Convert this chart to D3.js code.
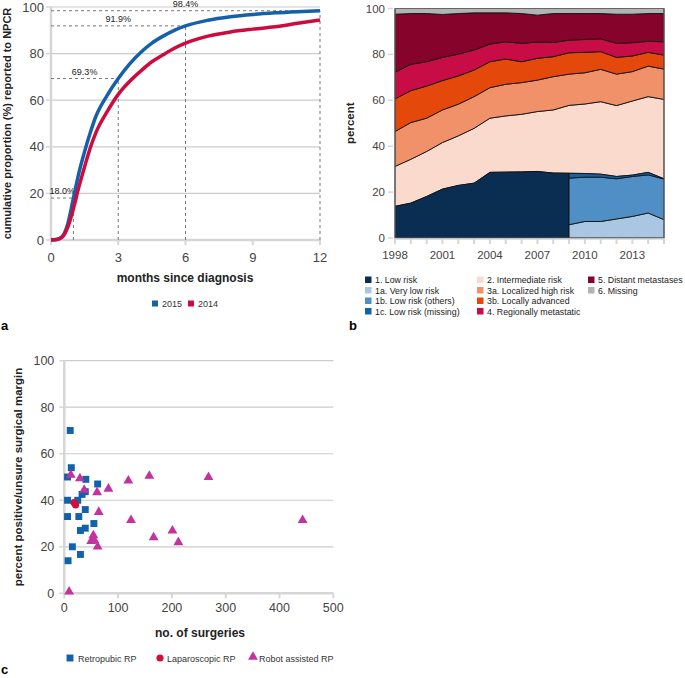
<!DOCTYPE html>
<html><head><meta charset="utf-8">
<script src="https://cdn.jsdelivr.net/npm/d3@7/dist/d3.min.js"></script>
<style>body{margin:0;background:#fff}svg{display:block;font-family:"Liberation Sans",Arial,sans-serif}</style>
</head><body><svg id="c" width="685" height="678"></svg>
<script>
// ---------- Panel a data ----------
const monthsA = [0,0.25,0.5,0.75,1,1.25,1.5,1.75,2,2.5,3,3.5,4,4.5,5,5.5,6,7,8,9,10,11,12];
const cum2015 = [0,0.2,1.5,7,18,29,38,46,53,62,69.3,75.5,80.5,84.5,87.5,90,91.9,94.3,95.8,96.8,97.5,98,98.4];
const cum2014 = [0,0.2,1.2,5.5,13.5,23,31.5,39.5,46,55,62.5,68,72.5,76.5,79.5,82.3,84.5,87.5,89.3,90.5,91.5,93,94.4];
const markMonths = [1,3,6,12];
const markValues = [18.0,69.3,91.9,98.4];
const markLabels = ["18.0%","69.3%","91.9%","98.4%"];
const ticksA_x = [0,3,6,9,12];
const ticksA_y = [0,20,40,60,80,100];

// ---------- Panel b data ----------
const years = d3.range(1998,2016);
const lowRisk   = [13.8,15.2,18.1,21.3,22.9,23.9,28.6,28.7,28.8,29.0,28.3,28.2,null,null,null,null,null,null];
const veryLow   = [null,null,null,null,null,null,null,null,null,null,null,5.8,7.2,7.2,8.3,9.4,10.9,8.0];
const lowOthers = [null,null,null,null,null,null,null,null,null,null,null,20.3,19.3,19.3,17.5,17.4,16.6,17.7];
const lowMissing= [null,null,null,null,null,null,null,null,null,null,null,2.1,1.6,1.3,1.0,0.6,1.1,0.1];
const intermediate=[17.4,19.1,19.6,20.3,21.6,23.9,23.6,24.5,25.1,26.1,27.5,29.6,30.3,31.6,30.9,32.3,33.0,34.6];
const locHigh   = [15.2,16.0,14.5,14.2,13.8,13.8,13.3,13.8,13.8,13.7,14.5,13.6,13.6,14.1,13.7,12.8,13.3,13.2];
const locAdv    = [14.2,13.9,14.0,12.8,12.3,11.6,11.3,11.0,9.1,9.5,8.7,9.3,8.9,7.7,7.3,6.8,6.0,6.1];
const regMet    = [11.6,11.5,10.6,10.1,9.5,8.7,7.7,7.5,8.0,7.1,6.2,5.5,5.6,5.6,6.1,5.8,4.8,5.8];
const distMet   = [25.3,22.1,21.0,18.7,17.7,16.2,13.6,12.6,13.0,11.7,12.6,11.6,11.3,11.0,12.7,12.4,12.1,12.3];
const missing   = [2.5,2.2,2.2,2.6,2.2,1.9,1.9,1.9,2.2,2.9,2.2,2.2,2.2,2.2,2.5,2.5,2.2,2.2];
const yearLabels = [1998,2001,2004,2007,2010,2013];
const ticksB_y = [0,20,40,60,80,100];
const legendB = [
  ["1. Low risk","#0a2d52"],["1a. Very low risk","#a9c6e2"],["1b. Low risk (others)","#4f8fc6"],["1c. Low risk (missing)","#1262a8"],
  ["2. Intermediate risk","#f9dacd"],["3a. Localized high risk","#f0916a"],["3b. Locally advanced","#e4490b"],["4. Regionally metastatic","#c80c45"],
  ["5. Distant metastases","#86032c"],["6. Missing","#b3b3b3"]];

// ---------- Panel c data ----------
const retroX = [11,13,6,40,62,39,33,6,25,6,27,39,55,39,30,15,30,7];
const retroY = [70,54,50,49,47,43.7,42.5,40,40,33,33,36,30,28,27,20,16.7,14];
const lapX = [18,21];
const lapY = [39,38];
const robotX = [12,29,37,61,82,119,158,268,64,124,443,201,54,166,50,56,212,62,9];
const robotY = [50.5,49,44,43,44.5,48,50,49.5,34.5,31,31,26.5,24.5,23.6,22,22.3,21.5,19.6,0.3];
const ticksC_x = [0,100,200,300,400,500];
const ticksC_y = [0,20,40,60,80,100];

const svg = d3.select("#c");
const AX = "#d6d6d6", GRID = "#cccccc", TXT = "#444";

// ================= Panel a =================
const xA = d3.scaleLinear().domain([0,12]).range([51,320]);
const yA = d3.scaleLinear().domain([0,100]).range([240,7]);
const gA = svg.append("g");
gA.selectAll(".g").data(ticksA_y.slice(1)).join("line")
  .attr("x1",xA(0)).attr("x2",xA(12)).attr("y1",d=>yA(d)).attr("y2",d=>yA(d))
  .attr("stroke",GRID).attr("stroke-width",1.2);
gA.append("line").attr("x1",xA(0)).attr("x2",xA(0)).attr("y1",yA(100)).attr("y2",yA(0)).attr("stroke",AX).attr("stroke-width",2.5);
gA.append("line").attr("x1",xA(0)-1).attr("x2",xA(12)).attr("y1",yA(0)).attr("y2",yA(0)).attr("stroke",AX).attr("stroke-width",2.5);
gA.selectAll(".ty").data(ticksA_y).join("line").attr("x1",xA(0)-5).attr("x2",xA(0)).attr("y1",d=>yA(d)).attr("y2",d=>yA(d)).attr("stroke",AX).attr("stroke-width",1.5);
gA.selectAll(".tx").data(ticksA_x).join("line").attr("x1",d=>xA(d)).attr("x2",d=>xA(d)).attr("y1",yA(0)).attr("y2",yA(0)+5).attr("stroke",AX).attr("stroke-width",2);
gA.selectAll(".ly").data(ticksA_y).join("text").attr("x",xA(0)-7).attr("y",d=>yA(d)+4.5)
  .attr("text-anchor","end").attr("font-size",13).attr("fill",TXT).text(d=>d);
gA.selectAll(".lx").data(ticksA_x).join("text").attr("x",d=>xA(d)).attr("y",yA(0)+22)
  .attr("text-anchor","middle").attr("font-size",13).attr("fill",TXT).text(d=>d);
// dashed guides
markMonths.forEach((m,i)=>{
  const v = markValues[i];
  gA.append("line").attr("x1",xA(0)).attr("x2",xA(m)).attr("y1",yA(v)).attr("y2",yA(v))
    .attr("stroke","#777").attr("stroke-width",1).attr("stroke-dasharray","3,3");
  gA.append("line").attr("x1",xA(m)).attr("x2",xA(m)).attr("y1",yA(0)).attr("y2",yA(v))
    .attr("stroke","#777").attr("stroke-width",1).attr("stroke-dasharray","3,3");
  gA.append("text").attr("x",xA(m/2)).attr("y",yA(v)-4).attr("text-anchor","middle")
    .attr("font-size",9).attr("fill","#222").text(markLabels[i]);
});
const lineA = d3.line().x(d=>xA(d[0])).y(d=>yA(d[1])).curve(d3.curveMonotoneX);
gA.append("path").attr("d",lineA(monthsA.map((m,i)=>[m,cum2015[i]]))).attr("fill","none").attr("stroke","#1560a8").attr("stroke-width",3.5);
gA.append("path").attr("d",lineA(monthsA.map((m,i)=>[m,cum2014[i]]))).attr("fill","none").attr("stroke","#cc0c3e").attr("stroke-width",3.5);
gA.append("text").attr("transform",`translate(10.5,${(yA(0)+yA(100))/2}) rotate(-90)`).attr("text-anchor","middle")
  .attr("font-size",11).attr("font-weight","bold").attr("fill","#222").text("cumulative proportion (%) reported to NPCR");
gA.append("text").attr("x",185).attr("y",282).attr("text-anchor","middle").attr("font-size",12).attr("font-weight","bold").attr("fill","#222").text("months since diagnosis");
[["2015","#1560a8",152],["2014","#cc0c3e",188]].forEach(([t,c,x])=>{
  gA.append("rect").attr("x",x).attr("y",300.5).attr("width",6).attr("height",6).attr("fill",c);
  gA.append("text").attr("x",x+10).attr("y",307).attr("font-size",9).attr("fill","#333").text(t);
});
gA.append("text").attr("x",1).attr("y",330).attr("font-size",13).attr("font-weight","bold").text("a");

// ================= Panel b =================
const xB = d3.scaleLinear().domain([1998,2015]).range([395,664]);
const yB = d3.scaleLinear().domain([0,100]).range([238,8.5]);
const gB = svg.append("g");
const lowTotal = years.map((y,i)=> lowRisk[i]!=null ? lowRisk[i] : veryLow[i]+lowOthers[i]+lowMissing[i]);
const rowsB = years.map((y,i)=>({year:y,low:lowTotal[i],int:intermediate[i],a3:locHigh[i],b3:locAdv[i],r4:regMet[i],d5:distMet[i],m6:missing[i]}));
const upperKeys = ["low","int","a3","b3","r4","d5","m6"];
const upperCols = [null,"#f9dacd","#f0916a","#e4490b","#c80c45","#86032c","#b3b3b3"];
const stackUp = d3.stack().keys(upperKeys)(rowsB);
const areaB = d3.area().x(d=>xB(d.data.year)).y0(d=>yB(d[0])).y1(d=>yB(d[1]));
stackUp.forEach((s,k)=>{ if(k===0) return;
  gB.append("path").attr("d",areaB(s)).attr("fill",upperCols[k]).attr("stroke","#111").attr("stroke-width",0.9).attr("stroke-linejoin","round");
});
// 1. Low risk until 2009
const idx09 = years.indexOf(2009);
const navyRows = rowsB.slice(0,idx09+1).map((r,i)=>({year:r.year,v:lowRisk[i]}));
gB.append("path").attr("d",d3.area().x(d=>xB(d.year)).y0(yB(0)).y1(d=>yB(d.v))(navyRows))
  .attr("fill","#0a2d52").attr("stroke","#111").attr("stroke-width",0.9);
// 1a/1b/1c from 2009
const subRows = years.map((y,i)=>({year:y,a:veryLow[i],b:lowOthers[i],c:lowMissing[i]})).filter(r=>r.a!=null);
const stackLow = d3.stack().keys(["a","b","c"])(subRows);
const subCols = ["#a9c6e2","#4f8fc6","#1262a8"];
stackLow.forEach((s,k)=>{
  gB.append("path").attr("d",areaB(s)).attr("fill",subCols[k]).attr("stroke","#111").attr("stroke-width",0.9).attr("stroke-linejoin","round");
});
gB.append("rect").attr("x",xB(1998)).attr("y",yB(100)).attr("width",xB(2015)-xB(1998)).attr("height",yB(0)-yB(100))
  .attr("fill","none").attr("stroke","#666").attr("stroke-width",1);
gB.append("line").attr("x1",xB(1998)).attr("x2",xB(2015)).attr("y1",yB(0)+1).attr("y2",yB(0)+1).attr("stroke",AX).attr("stroke-width",1.5);
gB.selectAll(".tx").data(years).join("line").attr("x1",d=>xB(d)).attr("x2",d=>xB(d)).attr("y1",yB(0)+1).attr("y2",yB(0)+6).attr("stroke",AX).attr("stroke-width",2);
gB.selectAll(".ty").data(ticksB_y).join("line").attr("x1",xB(1998)-7).attr("x2",xB(1998)-2).attr("y1",d=>yB(d)).attr("y2",d=>yB(d)).attr("stroke",AX).attr("stroke-width",1.5);
gB.selectAll(".ly").data(ticksB_y).join("text").attr("x",xB(1998)-10).attr("y",d=>yB(d)+4)
  .attr("text-anchor","end").attr("font-size",11.5).attr("fill",TXT).text(d=>d);
gB.selectAll(".lx").data(yearLabels).join("text").attr("x",d=>xB(d)).attr("y",yB(0)+21)
  .attr("text-anchor","middle").attr("font-size",11.5).attr("fill",TXT).text(d=>d);
gB.append("text").attr("transform",`translate(354,${(yB(0)+yB(100))/2}) rotate(-90)`).attr("text-anchor","middle")
  .attr("font-size",11.5).attr("font-weight","bold").attr("fill","#222").text("percent");
const colX = [365,477,588];
legendB.forEach(([t,c],i)=>{
  const col = i<4?0:(i<8?1:2), row = i<4?i:(i<8?i-4:i-8);
  const y = 276.5 + row*10.5;
  gB.append("rect").attr("x",colX[col]).attr("y",y).attr("width",6.5).attr("height",6.5).attr("fill",c);
  gB.append("text").attr("x",colX[col]+10).attr("y",y+6.5).attr("font-size",8.8).attr("fill","#222").text(t);
});
gB.append("text").attr("x",349).attr("y",330).attr("font-size",13).attr("font-weight","bold").text("b");

// ================= Panel c =================
const xC = d3.scaleLinear().domain([0,500]).range([64.3,333.3]);
const yC = d3.scaleLinear().domain([0,100]).range([593.3,360.7]);
const gC = svg.append("g");
gC.selectAll(".g").data(ticksC_y.slice(1)).join("line").attr("x1",xC(0)).attr("x2",xC(500)).attr("y1",d=>yC(d)).attr("y2",d=>yC(d)).attr("stroke",GRID).attr("stroke-width",1.2);
gC.append("line").attr("x1",xC(0)).attr("x2",xC(0)).attr("y1",yC(100)).attr("y2",yC(0)).attr("stroke",AX).attr("stroke-width",2.5);
gC.append("line").attr("x1",xC(0)-1).attr("x2",xC(500)).attr("y1",yC(0)).attr("y2",yC(0)).attr("stroke",AX).attr("stroke-width",2.5);
gC.selectAll(".ty").data(ticksC_y).join("line").attr("x1",xC(0)-5).attr("x2",xC(0)).attr("y1",d=>yC(d)).attr("y2",d=>yC(d)).attr("stroke",AX).attr("stroke-width",1.5);
gC.selectAll(".tx").data(ticksC_x).join("line").attr("x1",d=>xC(d)).attr("x2",d=>xC(d)).attr("y1",yC(0)).attr("y2",yC(0)+5).attr("stroke",AX).attr("stroke-width",2);
gC.selectAll(".ly").data(ticksC_y).join("text").attr("x",xC(0)-10).attr("y",d=>yC(d)+4.5).attr("text-anchor","end").attr("font-size",12.5).attr("fill",TXT).text(d=>d);
gC.selectAll(".lx").data(ticksC_x).join("text").attr("x",d=>xC(d)).attr("y",yC(0)+19).attr("text-anchor","middle").attr("font-size",12.5).attr("fill",TXT).text(d=>d);
const sq = d3.symbol().type(d3.symbolSquare).size(48);
const ci = d3.symbol().type(d3.symbolCircle).size(40);
const tr = d3.symbol().type(d3.symbolTriangle).size(42);
gC.selectAll(".r").data(retroX.map((x,i)=>[x,retroY[i]])).join("path").attr("d",sq).attr("transform",d=>`translate(${xC(d[0])},${yC(d[1])})`).attr("fill","#0f62ab");
gC.selectAll(".l").data(lapX.map((x,i)=>[x,lapY[i]])).join("path").attr("d",ci).attr("transform",d=>`translate(${xC(d[0])},${yC(d[1])})`).attr("fill","#d0103a");
gC.selectAll(".t").data(robotX.map((x,i)=>[x,robotY[i]])).join("path").attr("d",tr).attr("transform",d=>`translate(${xC(d[0])},${yC(d[1])-1})`).attr("fill","#c4329e");
gC.append("text").attr("transform",`translate(22,${(yC(0)+yC(100))/2}) rotate(-90)`).attr("text-anchor","middle")
  .attr("font-size",11.5).attr("font-weight","bold").attr("fill","#222").text("percent positive/unsure surgical margin");
gC.append("text").attr("x",200).attr("y",637).attr("text-anchor","middle").attr("font-size",12).attr("font-weight","bold").attr("fill","#222").text("no. of surgeries");
gC.append("path").attr("d",sq).attr("transform","translate(70,658)").attr("fill","#0f62ab");
gC.append("text").attr("x",78).attr("y",661.5).attr("font-size",9).attr("fill","#333").text("Retropubic RP");
gC.append("path").attr("d",ci).attr("transform","translate(160,658)").attr("fill","#d0103a");
gC.append("text").attr("x",167).attr("y",661.5).attr("font-size",9).attr("fill","#333").text("Laparoscopic RP");
gC.append("path").attr("d",tr).attr("transform","translate(253,657)").attr("fill","#c4329e");
gC.append("text").attr("x",259).attr("y",661.5).attr("font-size",9).attr("fill","#333").text("Robot assisted RP");
gC.append("text").attr("x",1).attr("y",674).attr("font-size",13).attr("font-weight","bold").text("c");
</script></body></html>
